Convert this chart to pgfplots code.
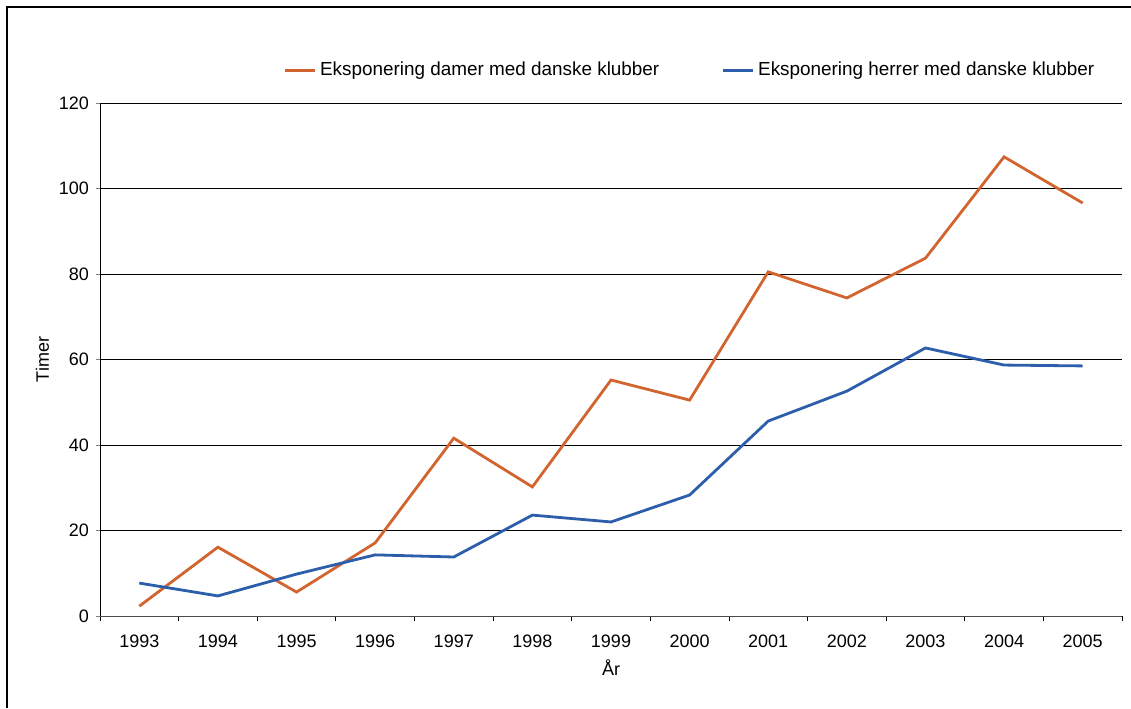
\documentclass[border=0pt]{standalone}
\usepackage{pgfplots}
\pgfplotsset{compat=1.18}
\usepackage{fontspec}
\setmainfont{Liberation Sans}
\definecolor{dam}{HTML}{D2652F}
\definecolor{her}{HTML}{2C5EAB}
\begin{document}
\begin{tikzpicture}
\useasboundingbox (0pt,0pt) rectangle (565.5pt,354pt);
\draw[line width=0.9pt] (3.5pt,0pt) -- (3.5pt,350.5pt) -- (565.5pt,350.5pt);
\begin{axis}[
  at={(50pt,46pt)}, anchor=south west,
  scale only axis, width=511pt, height=256.5pt,
  xmin=-0.5, xmax=12.5, ymin=0, ymax=120,
  axis lines*=left,
  x axis line style={draw=black!70},
  y axis line style={draw=black},
  xtick={0,...,12},
  xticklabels={1993,1994,1995,1996,1997,1998,1999,2000,2001,2002,2003,2004,2005},
  major x tick style={draw=none},
  minor xtick={-0.5,0.5,...,12.5},
  minor x tick style={draw=black, thin},
  minor tick length=2.5pt,
  ytick={0,20,...,120},
  tick align=outside,
  major tick length=2pt,
  ymajorgrids, grid style={black, line width=0.5pt},
  tick label style={font=\fontsize{9}{10}\selectfont},
  xticklabel style={yshift=-4pt},
  /pgf/number format/assume math mode=true,
  xlabel={År}, ylabel={Timer},
  label style={font=\fontsize{9}{10}\selectfont},
  xlabel style={yshift=1pt},
  ylabel style={yshift=-2pt},
  legend style={at={(0.173,1.0)}, anchor=south west, yshift=8pt, draw=none, fill=none,
    font=\fontsize{9.45}{10.5}\selectfont, /tikz/every even column/.append style={column sep=29pt}},
  legend columns=2,
  legend image code/.code={\draw[#1] (0pt,0pt) -- (15pt,0pt);},
]
\addplot[dam, line width=1.4pt] coordinates {
(0,2.3) (1,16.1) (2,5.6) (3,17.1) (4,41.6) (5,30.2) (6,55.2) (7,50.5) (8,80.5) (9,74.4) (10,83.7) (11,107.4) (12,96.6)};
\addlegendentry{Eksponering damer med danske klubber}
\addplot[her, line width=1.4pt] coordinates {
(0,7.7) (1,4.7) (2,9.8) (3,14.3) (4,13.8) (5,23.6) (6,22.0) (7,28.3) (8,45.6) (9,52.6) (10,62.7) (11,58.7) (12,58.5)};
\addlegendentry{Eksponering herrer med danske klubber}
\end{axis}
\end{tikzpicture}
\end{document}
